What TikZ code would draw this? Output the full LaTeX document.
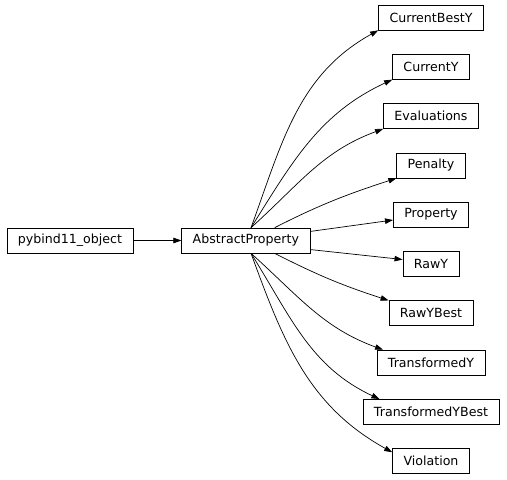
\documentclass[tikz,border=0pt]{standalone}
\usepackage{fontspec}
\setmainfont{DejaVu Sans}
\usepackage{tikz}
\usetikzlibrary{arrows.meta, positioning, calc}

\begin{document}
\begin{tikzpicture}
            [->, >={Triangle[length=8pt,width=5.5pt]}, x=1pt, y=1pt,
            node distance=23.6pt, line width=0.7pt,
            classbox/.style={rectangle, draw=black, minimum height=25pt,
                inner xsep=11pt, inner ysep=0pt,
                font=\fontsize{12.6}{15}\selectfont}]

            \useasboundingbox (0,0) rectangle (507,-480);

            \node[classbox] (pybind) at (70,-240.5) {pybind11\_object};
            \node[classbox] (abstract) [right = 48pt of pybind] {AbstractProperty};

            \node[classbox] (currentbesty) at (431,-17.5) {CurrentBestY};
            \node[classbox] (currenty) [below = of currentbesty] {CurrentY};
            \node[classbox] (evaluations) [below = of currenty] {Evaluations};
            \node[classbox] (penalty) [below = of evaluations] {Penalty};
            \node[classbox] (property) [below = of penalty] {Property};
            \node[classbox] (rawy) [below = of property] {RawY};
            \node[classbox] (rawybest) [below = of rawy] {RawYBest};
            \node[classbox] (transformedy) [below = of rawybest] {TransformedY};
            \node[classbox] (transformedybest) [below = of transformedy] {TransformedYBest};
            \node[classbox] (violation) [below = of transformedybest] {Violation};

            \draw (pybind) -- (abstract);
            \draw (abstract.68) to[out=70, in=209] (currentbesty.south west);
            \draw (abstract.68) to[out=58, in=205] (currenty.south west);
            \draw (abstract.68) to[out=42, in=200] (evaluations.south west);
            \draw (abstract.24) to[out=27, in=198] (penalty.south west);
            \draw (abstract.8) -- (property.188);
            \draw (abstract.-8) -- (rawy.171);
            \draw (abstract.-24) to[out=-27, in=162] (rawybest.north west);
            \draw (abstract.-68) to[out=-42, in=160] (transformedy.165);
            \draw (abstract.-68) to[out=-58, in=155] (transformedybest.166);
            \draw (abstract.-68) to[out=-70, in=151] (violation.167);
        \end{tikzpicture}
\end{document}
